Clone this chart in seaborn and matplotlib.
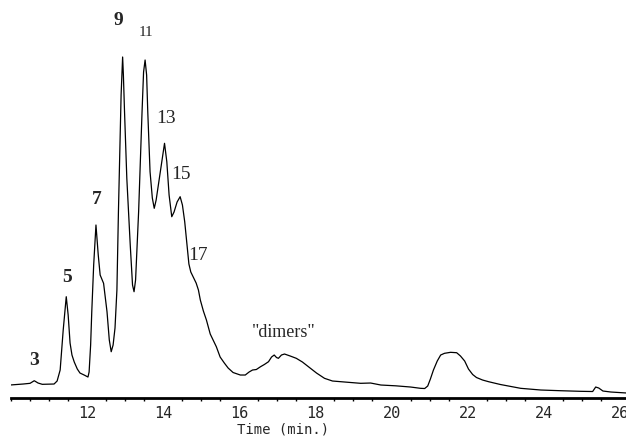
import numpy as np
import pandas as pd
import matplotlib
matplotlib.use("Agg")
import matplotlib.pyplot as plt
from matplotlib.ticker import MultipleLocator
import seaborn as sns

# chromatogram trace (time in min, detector response in arbitrary units)
time_min = [
    9.98, 10.33, 10.51, 10.62, 10.72, 10.83, 11.14, 11.22, 11.30, 11.38,
    11.46, 11.51, 11.56, 11.61, 11.67, 11.75, 11.82, 11.93, 12.03, 12.06,
    12.10, 12.13, 12.18, 12.24, 12.30, 12.35, 12.44, 12.53, 12.59, 12.64,
    12.69, 12.74, 12.79, 12.83, 12.90, 12.94, 12.96, 12.99, 13.05, 13.14,
    13.20, 13.24, 13.28, 13.36, 13.45, 13.49, 13.53, 13.57, 13.60, 13.66,
    13.72, 13.77, 13.82, 13.93, 14.04, 14.10, 14.16, 14.23, 14.29, 14.37,
    14.45, 14.51, 14.57, 14.63, 14.68, 14.73, 14.82, 14.87, 14.93, 14.98,
    15.06, 15.14, 15.24, 15.40, 15.50, 15.61, 15.71, 15.84, 16.03, 16.16,
    16.26, 16.35, 16.45, 16.56, 16.66, 16.77, 16.85, 16.92, 16.98, 17.03,
    17.11, 17.19, 17.34, 17.50, 17.66, 17.82, 18.03, 18.24, 18.45, 18.66,
    18.93, 19.19, 19.45, 19.72, 20.11, 20.50, 20.76, 20.87, 20.95, 21.02,
    21.10, 21.20, 21.29, 21.39, 21.55, 21.71, 21.81, 21.92, 22.02, 22.13,
    22.23, 22.39, 22.55, 22.86, 23.39, 23.92, 24.44, 24.97, 25.28, 25.36,
    25.44, 25.55, 25.76, 26.18,
]
response = [
    13, 14, 14.7, 17.3, 15, 13.7, 14, 17, 28, 68,
    101.3, 83, 55, 43, 36, 29, 25, 23, 21, 26,
    53, 86.3, 133, 173, 143, 123, 114.7, 86.3, 58, 46.3,
    53, 70, 108, 186.3, 303, 341, 323, 286.3, 219.7, 153,
    113, 106.3, 118, 186.3, 286.3, 326, 338, 323, 286.3, 226.3,
    200, 189.7, 198, 226.3, 254.7, 236.3, 203, 181.3, 186, 196,
    201.3, 193, 176.3, 153, 134, 126, 119, 115, 108, 98,
    87, 78, 64, 51.3, 41, 35, 30, 25.5, 23, 23,
    26, 28, 28.5, 31.3, 33.5, 36.3, 41, 43, 40.5, 39.7,
    43, 44, 42, 39.7, 36, 31.3, 25, 19.7, 17, 16.3,
    15.5, 14.7, 15, 13, 12.2, 11, 9.7, 9.5, 12, 19,
    28, 37, 43, 44.7, 45.7, 45.3, 42, 37, 29, 23.5,
    20.5, 18, 16.3, 13.5, 9.7, 8, 7.3, 6.7, 6.5, 11,
    10, 7, 6, 5,
]

# peak annotations
peak_labels = ["3", "5", "7", "9", "11", "13", "15", "17", '"dimers"']
label_time = [10.62, 11.49, 12.26, 12.83, 13.55, 14.08, 14.47, 14.93, 17.17]
label_height = [38, 121, 199, 378, 366, 280, 224, 143, 66]

df = pd.DataFrame({"time": time_min, "response": response})

sns.set_style("white")
plt.rcParams["font.family"] = ["DejaVu Sans"]

fig = plt.figure(figsize=(6.26, 4.37), dpi=100)
ax = fig.add_axes([0.017, 0.0892, 0.9857, 0.9108])

sns.lineplot(data=df, x="time", y="response", color="black", lw=0.9,
             sort=False, estimator=None, ax=ax)

for lab, t, h in zip(peak_labels, label_time, label_height):
    bold = lab in ("3", "5", "7", "9")
    size = 11 if lab == "11" else (13 if lab.startswith('"') else 14)
    ax.text(t, h, lab, ha="center", va="center", fontsize=size,
            family="Liberation Serif", fontweight="bold" if bold else "normal")

ax.set_xlim(10, 26.2)
ax.set_ylim(0, 398)
ax.set_yticks([])
ax.set_ylabel("")
for side in ["left", "right", "top"]:
    ax.spines[side].set_visible(False)
ax.spines["bottom"].set_linewidth(2)
ax.spines["bottom"].set_color("black")

ax.set_xticks(np.arange(12, 27, 2))
ax.xaxis.set_minor_locator(MultipleLocator(0.5))
ax.tick_params(axis="x", which="major", direction="out", length=4, width=1,
               color="black", pad=2, labelsize=11)
ax.tick_params(axis="x", which="minor", direction="out", length=2.5, width=1,
               color="black", bottom=True)
for lbl in ax.get_xticklabels():
    lbl.set_family("DejaVu Sans Mono")

ax.set_xlabel("Time (min.)", family="DejaVu Sans Mono", fontsize=10)
ax.xaxis.set_label_coords(0.442, -0.079, transform=ax.transAxes)
ax.xaxis.label.set_va("center")

fig.savefig("out.png", dpi=100)
